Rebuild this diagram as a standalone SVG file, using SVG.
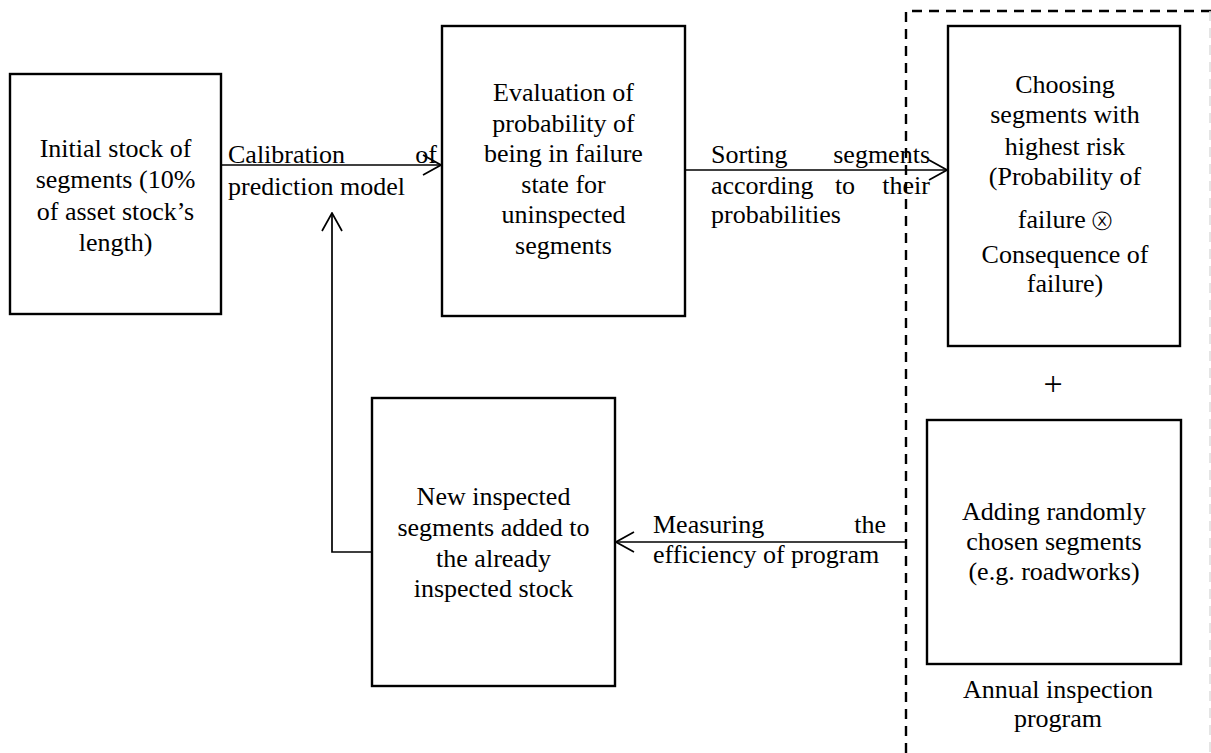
<svg xmlns="http://www.w3.org/2000/svg" width="1211" height="753" viewBox="0 0 1211 753">
<style>
  .box { fill: #fff; stroke: #000; stroke-width: 2.4; }
  .t { font-family: "Liberation Serif", "Times New Roman", serif; font-size: 26px; fill: #000; }
  .c { text-anchor: middle; }
  .e { text-anchor: end; }
  .conn { fill: none; stroke: #000; stroke-width: 1.7; }
  .dash { fill: none; stroke: #000; stroke-width: 2.4; stroke-dasharray: 10 7; }
</style>
<defs>
  <marker id="arr" viewBox="0 0 20 22" refX="19" refY="11" markerWidth="20" markerHeight="22" markerUnits="userSpaceOnUse" orient="auto">
    <path d="M1,1 L19,11 L1,21" fill="none" stroke="#000" stroke-width="1.7"/>
  </marker>
</defs>
<rect width="1211" height="753" fill="#fff"/>

<g id="dashed-frame">
  <path class="dash" d="M906,753 L906,11 L1211,11"/>
  <line x1="1210" y1="11" x2="1210" y2="753" stroke="#ddd" stroke-width="1.5" stroke-dasharray="10 7"/>
</g>

<g id="connectors">
  <line class="conn" x1="221" y1="165" x2="441" y2="165" marker-end="url(#arr)"/>
  <line class="conn" x1="685" y1="170" x2="947" y2="170" marker-end="url(#arr)"/>
  <line class="conn" x1="906" y1="542" x2="616" y2="542" marker-end="url(#arr)"/>
  <polyline class="conn" points="372,552 332,552 332,213" marker-end="url(#arr)"/>
  <text class="t" x="228" y="163">Calibration</text>
  <text class="t e" x="437" y="163">of</text>
  <text class="t" x="228" y="195">prediction model</text>
  <text class="t" x="711" y="163">Sorting</text>
  <text class="t e" x="930" y="163">segments</text>
  <text class="t" x="711" y="194">according</text>
  <text class="t c" x="845" y="194">to</text>
  <text class="t e" x="930" y="194">their</text>
  <text class="t" x="711" y="223">probabilities</text>
  <text class="t" x="653" y="533">Measuring</text>
  <text class="t e" x="886" y="533">the</text>
  <text class="t" x="653" y="563">efficiency of program</text>
</g>

<g id="initial-stock">
  <rect class="box" x="10" y="74" width="211" height="240"/>
  <text class="t c" x="115.5" y="157">Initial stock of</text>
  <text class="t c" x="115.5" y="188">segments (10%</text>
  <text class="t c" x="115.5" y="220">of asset stock’s</text>
  <text class="t c" x="115.5" y="251">length)</text>
</g>

<g id="evaluation">
  <rect class="box" x="442" y="26" width="243" height="290"/>
  <text class="t c" x="563.5" y="101">Evaluation of</text>
  <text class="t c" x="563.5" y="131.5">probability of</text>
  <text class="t c" x="563.5" y="162">being in failure</text>
  <text class="t c" x="563.5" y="192.5">state for</text>
  <text class="t c" x="563.5" y="223">uninspected</text>
  <text class="t c" x="563.5" y="253.5">segments</text>
</g>

<g id="choosing">
  <rect class="box" x="948" y="26" width="232" height="320"/>
  <text class="t c" x="1065" y="93">Choosing</text>
  <text class="t c" x="1065" y="123">segments with</text>
  <text class="t c" x="1065" y="155">highest risk</text>
  <text class="t c" x="1065" y="185">(Probability of</text>
  <text class="t c" x="1065" y="228">failure <tspan style="font-family:'DejaVu Sans',sans-serif;font-size:20px">ⓧ</tspan></text>
  <text class="t c" x="1065" y="263">Consequence of</text>
  <text class="t c" x="1065" y="292">failure)</text>
</g>

<g id="plus">
  <text class="t c" x="1053" y="395" style="font-size:34px">+</text>
</g>

<g id="adding">
  <rect class="box" x="927" y="420" width="254" height="244"/>
  <text class="t c" x="1054" y="520">Adding randomly</text>
  <text class="t c" x="1054" y="550">chosen segments</text>
  <text class="t c" x="1054" y="580">(e.g. roadworks)</text>
</g>

<g id="annual-label">
  <text class="t c" x="1058" y="698">Annual inspection</text>
  <text class="t c" x="1058" y="727">program</text>
</g>

<g id="new-inspected">
  <rect class="box" x="372" y="398" width="243" height="288"/>
  <text class="t c" x="493.5" y="505">New inspected</text>
  <text class="t c" x="493.5" y="536">segments added to</text>
  <text class="t c" x="493.5" y="567">the already</text>
  <text class="t c" x="493.5" y="597">inspected stock</text>
</g>
</svg>
